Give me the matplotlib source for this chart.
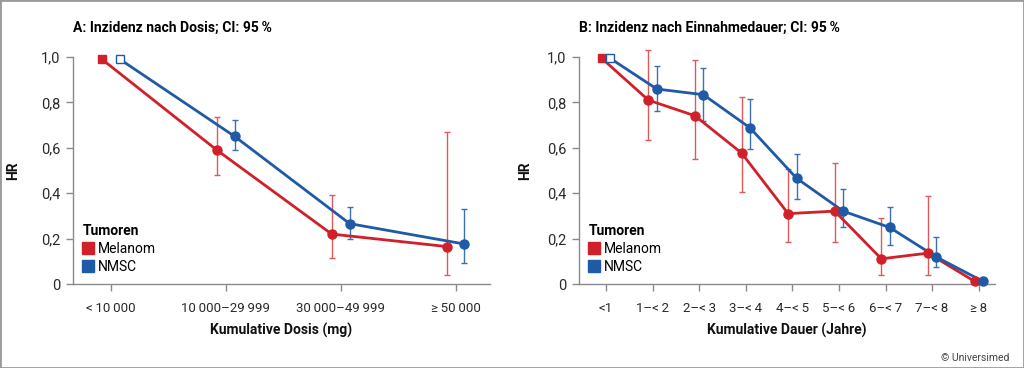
import numpy as np
import matplotlib.pyplot as plt
from matplotlib.lines import Line2D
from matplotlib.patches import Rectangle

plt.rcParams['font.family'] = ['Roboto', 'DejaVu Sans']

# Panel A: by cumulative dose
dose_labels = ['<\u200910\u2009000', '10\u2009000\u201329\u2009999',
               '30\u2009000\u201349\u2009999', '\u2265\u200950\u2009000']
mel_dose = [0.99, 0.59, 0.22, 0.165]
mel_dose_lo = [np.nan, 0.48, 0.113, 0.041]
mel_dose_hi = [np.nan, 0.735, 0.393, 0.671]
nmsc_dose = [0.99, 0.65, 0.266, 0.176]
nmsc_dose_lo = [np.nan, 0.589, 0.198, 0.091]
nmsc_dose_hi = [np.nan, 0.722, 0.341, 0.331]

# Panel B: by cumulative duration
dur_labels = ['<1', '1\u2013<\u20092', '2\u2013<\u20093', '3\u2013<\u20094', '4\u2013<\u20095',
              '5\u2013<\u20096', '6\u2013<\u20097', '7\u2013<\u20098', '\u2265\u20098']
mel_dur = [0.994, 0.81, 0.741, 0.577, 0.31, 0.321, 0.111, 0.136, 0.012]
mel_dur_lo = [np.nan, 0.633, 0.552, 0.406, 0.187, 0.187, 0.038, 0.038, np.nan]
mel_dur_hi = [np.nan, 1.029, 0.988, 0.824, 0.505, 0.534, 0.29, 0.389, np.nan]
nmsc_dur = [0.994, 0.859, 0.834, 0.688, 0.466, 0.321, 0.249, 0.119, 0.012]
nmsc_dur_lo = [np.nan, 0.763, 0.72, 0.593, 0.376, 0.249, 0.174, 0.073, np.nan]
nmsc_dur_hi = [np.nan, 0.962, 0.953, 0.813, 0.571, 0.417, 0.341, 0.208, np.nan]

yticks = [0, 0.2, 0.4, 0.6, 0.8, 1.0]
ytick_labels = ['0', '0,2', '0,4', '0,6', '0,8', '1,0']

RED = '#d0202a'
BLUE = '#1f5aa6'
RED_EB = '#dd5a5a'
BLUE_EB = '#3d70b3'
GREY = '#8a8a8a'
FS = 9.5


def draw_series(ax, x, y, lo, hi, color, ecolor, open_first):
    x = np.asarray(x, dtype=float)
    y = np.asarray(y)
    lo = np.asarray(lo)
    hi = np.asarray(hi)
    ok = ~np.isnan(lo)
    ax.errorbar(x[ok], y[ok], yerr=[y[ok] - lo[ok], hi[ok] - y[ok]], fmt='none',
                ecolor=ecolor, elinewidth=1.0, capsize=2.5, capthick=1.0,
                zorder=2, clip_on=False)
    ax.plot(x, y, color=color, lw=2.0, zorder=3, clip_on=False)
    ax.plot(x[1:], y[1:], 'o', color=color, ms=6.5, zorder=4, clip_on=False)
    face = 'white' if open_first else color
    ax.plot(x[:1], y[:1], 's', mfc=face, mec=color, mew=1.0, ms=5.5,
            zorder=4, clip_on=False)


def style_axes(ax, labels, xlim, xlabel):
    ax.set_ylim(0, 1.0)
    ax.set_xlim(*xlim)
    ax.set_yticks(yticks)
    ax.set_yticklabels(ytick_labels)
    ax.set_xticks(range(len(labels)))
    ax.set_xticklabels(labels)
    for s in ['top', 'right']:
        ax.spines[s].set_visible(False)
    for s in ['left', 'bottom']:
        ax.spines[s].set_color(GREY)
        ax.spines[s].set_linewidth(1.0)
    ax.tick_params(axis='both', colors=GREY, labelcolor='#2a2a2a', length=5,
                   width=1.0, labelsize=FS)
    ax.tick_params(axis='x', pad=8)
    ax.tick_params(axis='y', pad=4, labelsize=10.5)
    ax.set_xlabel(xlabel, fontsize=FS + 0.5, fontweight='bold', color='#111111')
    ax.xaxis.set_label_coords(0.5, -0.17)
    ax.set_ylabel('HR', fontsize=FS + 0.5, fontweight='bold', color='#111111')
    handles = [Line2D([], [], ls='none', marker='s', ms=8.5, color=RED),
               Line2D([], [], ls='none', marker='s', ms=8.5, color=BLUE)]
    leg = ax.legend(handles, ['Melanom', 'NMSC'], title='Tumoren',
                    loc='upper left', bbox_to_anchor=(0.01, 0.29),
                    frameon=False, fontsize=10, handlelength=0.8,
                    handletextpad=0.3, labelspacing=0.3, borderaxespad=0)
    leg.get_title().set_fontweight('bold')
    leg.get_title().set_fontsize(10)
    leg._legend_box.align = 'left'


fig = plt.figure(figsize=(10.24, 3.68), dpi=100)
axA = fig.add_axes([73 / 1024, 1 - 284 / 368, 417 / 1024, 227 / 368])
axB = fig.add_axes([579 / 1024, 1 - 284 / 368, 416 / 1024, 227 / 368])

xa = np.arange(len(dose_labels))
draw_series(axA, xa - 0.078, mel_dose, mel_dose_lo, mel_dose_hi, RED, RED_EB, False)
draw_series(axA, xa + 0.078, nmsc_dose, nmsc_dose_lo, nmsc_dose_hi, BLUE, BLUE_EB, True)
style_axes(axA, dose_labels, (-0.33, 3.30), 'Kumulative Dosis (mg)')
axA.yaxis.set_label_coords(-0.127, 0.5)
axA.text(0, 1.13, 'A: Inzidenz nach Dosis; CI: 95\u2009%', transform=axA.transAxes,
         fontsize=FS + 0.5, fontweight='bold', va='center', ha='left')

xb = np.arange(len(dur_labels))
draw_series(axB, xb - 0.09, mel_dur, mel_dur_lo, mel_dur_hi, RED, RED_EB, False)
draw_series(axB, xb + 0.09, nmsc_dur, nmsc_dur_lo, nmsc_dur_hi, BLUE, BLUE_EB, True)
style_axes(axB, dur_labels, (-0.58, 8.35), 'Kumulative Dauer (Jahre)')
axB.yaxis.set_label_coords(-0.113, 0.5)
axB.text(0, 1.13, 'B: Inzidenz nach Einnahmedauer; CI: 95\u2009%', transform=axB.transAxes,
         fontsize=FS + 0.5, fontweight='bold', va='center', ha='left')

fig.text(0.986, 0.028, '\u00a9 Universimed', ha='right', va='center', fontsize=7.5,
         color='#444444')
fig.patches.append(Rectangle((0, 0), 1, 1, transform=fig.transFigure, fill=False,
                             edgecolor='#9a9a9a', lw=2))

fig.savefig('out.png', dpi=100)
